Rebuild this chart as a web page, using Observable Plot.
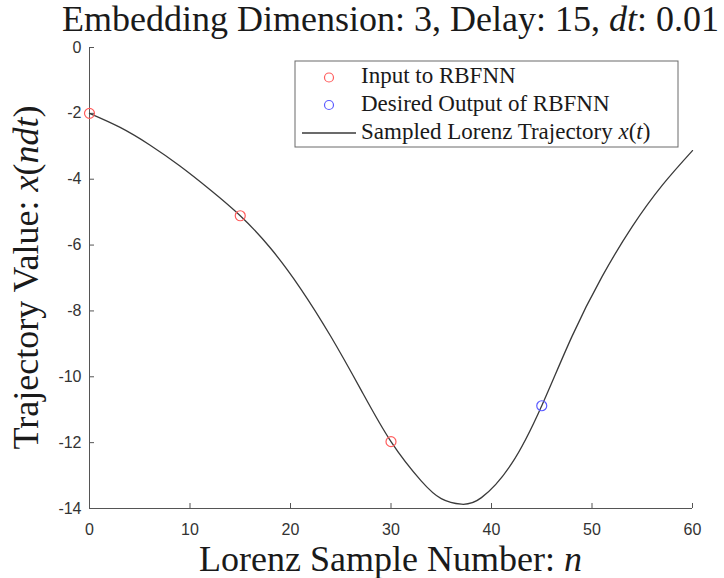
<!DOCTYPE html>
<html><head><meta charset="utf-8">
<script src="https://cdn.jsdelivr.net/npm/d3@7"></script>
<script src="https://cdn.jsdelivr.net/npm/@observablehq/plot@0.6"></script>
<style>body{margin:0;background:#fff}</style>
</head><body><div id="chart"></div>
<script>
// Data
const sampleN    = [0, 3, 6, 9, 12, 15, 18, 21, 24, 27, 30, 33, 35, 37, 39, 42, 45, 48, 51, 54, 57, 60];
const trajectory = [-2.00, -2.42, -2.96, -3.60, -4.32, -5.11, -6.09, -7.32, -8.77, -10.39, -11.97, -13.16, -13.70, -13.87, -13.67, -12.64, -10.88, -8.78, -6.96, -5.44, -4.18, -3.13];
const inputN     = [0, 15, 30];
const inputValue = [-2.00, -5.11, -11.97];
const outputN     = [45];
const outputValue = [-10.88];
const xTicks = [0, 10, 20, 30, 40, 50, 60];
const yTicks = [0, -2, -4, -6, -8, -10, -12, -14];
const legendLabels = ["Input to RBFNN", "Desired Output of RBFNN", "Sampled Lorenz Trajectory "];

const traj = sampleN.map((n, i) => ({n, v: trajectory[i]}));
const inputs = inputN.map((n, i) => ({n, v: inputValue[i]}));
const outputs = outputN.map((n, i) => ({n, v: outputValue[i]}));

const W = 724, H = 578, mL = 89, mR = 32, mT = 47, mB = 70;
const frameW = W - mL - mR, frameH = H - mT - mB, tickLen = 5;
const red = "#ff5c5c", blue = "#5c5cff", lineColor = "#3a3a3a", axisColor = "#555";
const serif = "'Liberation Serif', 'Times New Roman', serif";

const plot = Plot.plot({
  width: W, height: H,
  marginLeft: mL, marginRight: mR, marginTop: mT, marginBottom: mB,
  style: {fontFamily: "'Liberation Sans', Arial, sans-serif", fontSize: "16px", color: "#333", background: "#fff"},
  x: {domain: [0, 60]},
  y: {domain: [-14, 0]},
  marks: [
    Plot.ruleX([0], {stroke: axisColor}),
    Plot.ruleY([-14], {stroke: axisColor}),
    // inward ticks
    Plot.tickX(xTicks, {x: d => d, stroke: axisColor, strokeWidth: 1, insetTop: frameH - tickLen}),
    Plot.tickY(yTicks, {y: d => d, stroke: axisColor, strokeWidth: 1, insetRight: frameW - tickLen}),
    Plot.axisX({ticks: xTicks, tickSize: 0, tickPadding: 15, tickFormat: d => String(d), label: null}),
    Plot.axisY({ticks: yTicks, tickSize: 0, tickPadding: 8, tickFormat: d => String(d), label: null}),
    Plot.line(traj, {x: "n", y: "v", curve: "natural", stroke: lineColor, strokeWidth: 1.3}),
    Plot.dot(inputs, {x: "n", y: "v", r: 5, stroke: red, strokeWidth: 1.2}),
    Plot.dot(outputs, {x: "n", y: "v", r: 5, stroke: blue, strokeWidth: 1.2})
  ]
});
document.getElementById("chart").appendChild(plot);

const svg = d3.select(plot);
const cx = (mL + W - mR) / 2;
const cy = (mT + H - mB) / 2;

// Title
const title = svg.append("text").attr("x", cx).attr("y", 31).attr("text-anchor", "middle")
  .attr("font-family", serif).attr("font-size", 36).attr("fill", "#1a1a1a");
title.append("tspan").text("Embedding Dimension: 3, Delay: 15, ");
title.append("tspan").attr("font-style", "italic").text("dt");
title.append("tspan").text(": 0.01");

// X label
const xl = svg.append("text").attr("x", cx).attr("y", 571).attr("text-anchor", "middle")
  .attr("font-family", serif).attr("font-size", 36).attr("fill", "#1a1a1a");
xl.append("tspan").text("Lorenz Sample Number: ");
xl.append("tspan").attr("font-style", "italic").text("n");

// Y label
const yl = svg.append("text").attr("transform", `translate(38,${cy}) rotate(-90)`).attr("text-anchor", "middle")
  .attr("font-family", serif).attr("font-size", 36).attr("fill", "#1a1a1a");
yl.append("tspan").text("Trajectory Value: ");
yl.append("tspan").attr("font-style", "italic").text("x");
yl.append("tspan").text("(");
yl.append("tspan").attr("font-style", "italic").text("ndt");
yl.append("tspan").text(")");

// Legend
const lgRight = W - mR - 14, lgTop = mT + 14, lgW = 383, lgH = 86;
const lg = svg.append("g").attr("transform", `translate(${lgRight - lgW},${lgTop})`);
lg.append("rect").attr("x", 0).attr("y", 0).attr("width", lgW).attr("height", lgH)
  .attr("fill", "#fff").attr("stroke", "#6a6a6a").attr("stroke-width", 1);
const rowY = [16.5, 44, 72];
lg.append("circle").attr("cx", 34).attr("cy", rowY[0]).attr("r", 4.5).attr("fill", "none").attr("stroke", red).attr("stroke-width", 1.2);
lg.append("circle").attr("cx", 34).attr("cy", rowY[1]).attr("r", 4.5).attr("fill", "none").attr("stroke", blue).attr("stroke-width", 1.2);
lg.append("line").attr("x1", 7).attr("x2", 61).attr("y1", rowY[2]).attr("y2", rowY[2]).attr("stroke", lineColor).attr("stroke-width", 1.3);
legendLabels.forEach((t, i) => {
  const tx = lg.append("text").attr("x", 66).attr("y", rowY[i] + 5.5).attr("text-anchor", "start")
    .attr("font-family", serif).attr("font-size", 23).attr("fill", "#1a1a1a");
  tx.append("tspan").text(t);
  if (i === 2) {
    tx.append("tspan").attr("font-style", "italic").text("x");
    tx.append("tspan").text("(");
    tx.append("tspan").attr("font-style", "italic").text("t");
    tx.append("tspan").text(")");
  }
});
</script>
</body></html>
